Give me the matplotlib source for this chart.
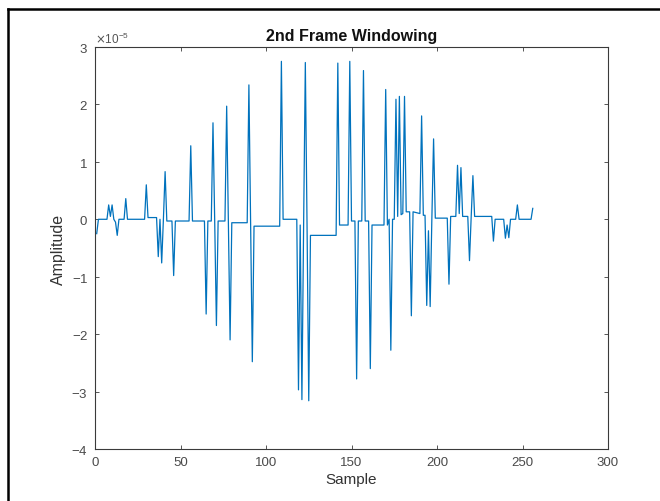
import matplotlib
matplotlib.use("Agg")
import matplotlib.pyplot as plt
from matplotlib.ticker import ScalarFormatter
from matplotlib.lines import Line2D
import numpy as np

plt.rcParams['font.family'] = ['Liberation Sans', 'DejaVu Sans']
plt.rcParams['axes.unicode_minus'] = False

# Vertices of the windowed frame (sample index, amplitude in units of 1e-5)
sample = [1, 2, 7, 8, 9, 10, 11, 12, 13, 14,
          17, 18, 19, 29, 30, 31,
          36, 37, 38, 39, 40, 41, 42, 45, 46, 47,
          55, 56, 57, 64, 65, 66,
          68, 69, 70, 71, 72, 76, 77, 78, 79, 80,
          89, 90, 91, 92, 93, 108, 109, 110,
          118, 119, 120, 121, 122, 123, 124, 125, 126,
          141, 142, 143, 148, 149, 150, 152, 153, 154,
          156, 157, 158, 160, 161, 162, 169, 170, 171,
          172, 173, 174, 175, 176, 177, 178, 179, 180, 181, 182,
          184, 185, 186, 190, 191, 192,
          193, 194, 195, 196, 197, 198, 199,
          206, 207, 208, 211, 212, 213, 214, 215,
          218, 219, 220, 221, 222, 232, 233, 234,
          239, 240, 241, 242, 243, 246, 247, 248, 255, 256]
amplitude_e5 = [-0.25, 0.0, 0.0, 0.25, 0.05, 0.25, 0.0, -0.05, -0.28, 0.0,
                0.0, 0.36, 0.0, 0.0, 0.6, 0.03,
                0.03, -0.65, 0.0, -0.76, 0.0, 0.83, -0.03, -0.03, -0.98, -0.03,
                -0.03, 1.28, -0.03, -0.03, -1.65, -0.03,
                -0.03, 1.68, -0.03, -1.85, -0.03, -0.03, 1.97, -0.06, -2.1, -0.06,
                -0.06, 2.34, -0.06, -2.48, -0.12, -0.12, 2.75, 0.0,
                0.0, -2.97, -0.1, -3.14, -0.1, 2.73, -0.1, -3.16, -0.28,
                -0.28, 2.72, -0.1, -0.1, 2.75, -0.03, -0.03, -2.78, -0.03,
                -0.03, 2.59, -0.03, -0.03, -2.6, -0.1, -0.1, 2.26, -0.1,
                0.0, -2.28, 0.0, 0.0, 2.09, 0.05, 2.14, 0.08, 0.1, 2.14, 0.13,
                0.13, -1.68, 0.13, 0.1, 1.8, 0.07,
                0.07, -1.5, -0.2, -1.52, 0.02, 1.4, 0.02,
                0.02, -1.13, 0.05, 0.05, 0.94, 0.1, 0.9, 0.05,
                0.05, -0.72, 0.05, 0.76, 0.05, 0.05, -0.38, 0.0,
                0.0, -0.33, -0.1, -0.32, 0.0, 0.0, 0.25, 0.0, 0.0, 0.19]

x_ticks = [0, 50, 100, 150, 200, 250, 300]
y_ticks_e5 = [-4, -3, -2, -1, 0, 1, 2, 3]
title = "2nd Frame Windowing"
x_label = "Sample"
y_label = "Amplitude"

fig = plt.figure(figsize=(6.6, 5.02), dpi=100)
ax = fig.add_axes([95/660, 1 - 450/502, 513/660, 402/502])

amp = np.array(amplitude_e5) * 1e-5
ax.plot(sample, amp, color='#0072BD', lw=0.9)

ax.set_xlim(0, 300)
ax.set_ylim(-4e-5, 3e-5)
ax.set_xticks(x_ticks)
ax.set_yticks(np.array(y_ticks_e5) * 1e-5)
fmt = ScalarFormatter(useMathText=True)
fmt.set_powerlimits((0, 0))
ax.yaxis.set_major_formatter(fmt)

axis_col = '#3a3a3a'
for s in ax.spines.values():
    s.set_color(axis_col)
    s.set_linewidth(0.8)
ax.tick_params(direction='in', length=3, width=0.6, colors=axis_col,
               labelsize=9.5, top=True, right=True, pad=5)
ax.tick_params(labelcolor='#4a4a4a')
ax.yaxis.get_offset_text().set_fontsize(8.5)
ax.yaxis.get_offset_text().set_color('#555555')

ax.set_title(title, fontsize=11.5, fontweight='bold', color='#111111', pad=5)
ax.set_xlabel(x_label, fontsize=11, color='#333333', labelpad=3)
ax.set_ylabel(y_label, fontsize=11.5, color='#333333', labelpad=4)

# screenshot frame (black border on left and top)
fig.add_artist(Line2D([8/660, 8/660], [0, 1 - 10/502], transform=fig.transFigure,
                      color='black', lw=1.8))
fig.add_artist(Line2D([8/660, 1], [1 - 10/502, 1 - 10/502], transform=fig.transFigure,
                      color='black', lw=1.8))

fig.savefig("out.png", dpi=100)
